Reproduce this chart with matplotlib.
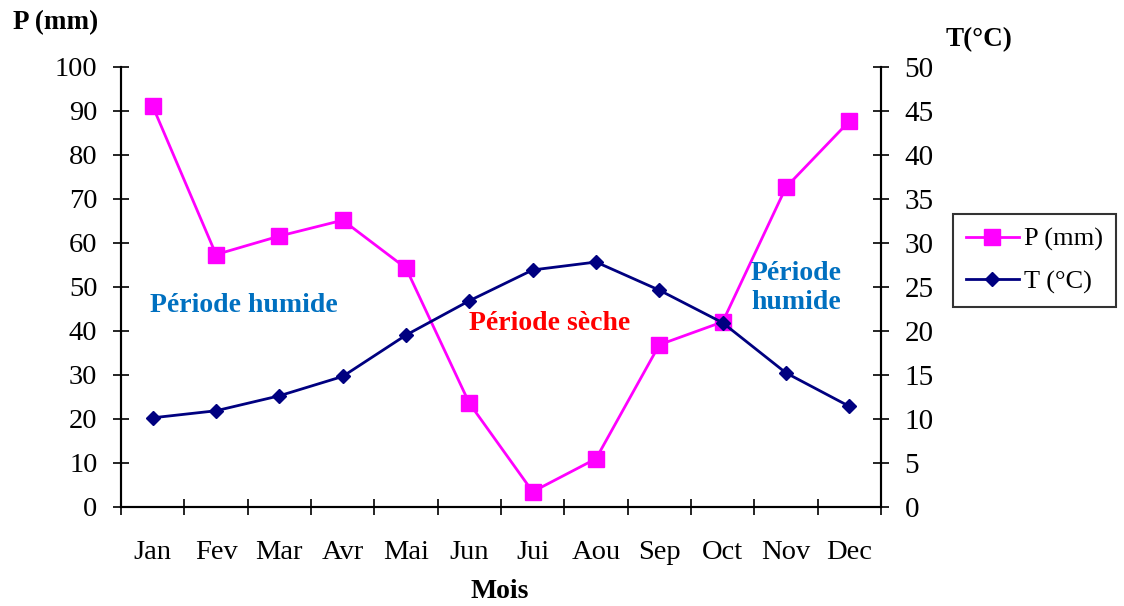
import matplotlib
matplotlib.use("Agg")
import matplotlib.pyplot as plt
from matplotlib.ticker import MultipleLocator, FixedLocator, NullFormatter, FixedFormatter

# Monthly climate data
months = ["Jan", "Fev", "Mar", "Avr", "Mai", "Jun", "Jui", "Aou", "Sep", "Oct", "Nov", "Dec"]
precip_mm = [91, 57.3, 61.5, 65.1, 54.2, 23.5, 3.4, 10.9, 36.8, 42.0, 72.6, 87.6]
temp_c = [10.1, 10.9, 12.6, 14.8, 19.5, 23.4, 26.9, 27.8, 24.6, 20.9, 15.2, 11.4]

plt.rcParams["font.family"] = ["Liberation Serif", "DejaVu Serif"]

fig = plt.figure(figsize=(11.24, 6.06), dpi=100)
ax = fig.add_axes([0.1077, 0.1639, 0.6761, 0.7261])
ax2 = ax.twinx()

x = [i + 0.5 for i in range(len(months))]

lp, = ax.plot(x, precip_mm, color="#ff00ff", lw=2, marker="s", ms=11.5,
              markeredgecolor="#ff00ff", label="P (mm)", zorder=3)
lt, = ax2.plot(x, temp_c, color="#000080", lw=2, marker="D", ms=7,
               markeredgecolor="#000080", label="T (°C)", zorder=3)

ax.set_xlim(0, 12)
ax.set_ylim(0, 100)
ax2.set_ylim(0, 50)

for a in (ax, ax2):
    a.spines["top"].set_visible(False)
    for s in a.spines.values():
        s.set_linewidth(1.5)
        s.set_color("black")

ax.yaxis.set_major_locator(MultipleLocator(10))
ax2.yaxis.set_major_locator(MultipleLocator(5))
ax.tick_params(axis="y", direction="inout", length=12, width=1.2, labelsize=20.5, pad=11)
ax2.tick_params(axis="y", direction="inout", length=12, width=1.2, labelsize=21, pad=11)

# Month boundaries as tick marks, names centred between them
ax.xaxis.set_major_locator(FixedLocator(list(range(13))))
ax.xaxis.set_major_formatter(NullFormatter())
ax.xaxis.set_minor_locator(FixedLocator(x))
ax.xaxis.set_minor_formatter(FixedFormatter(months))
ax.tick_params(axis="x", which="major", direction="inout", length=12, width=1.2)
ax.tick_params(axis="x", which="minor", length=0, labelsize=20.5, pad=24)

fig.text(0.445, 1 - 592 / 606, "Mois", fontsize=20, fontweight="bold", ha="center", va="center")
fig.text(0.012, 0.962, "P (mm)", fontsize=19.5, fontweight="bold", ha="left", va="center")
fig.text(0.841, 0.935, "T(°C)", fontsize=19.5, fontweight="bold", ha="left", va="center")

ax.text(0.46, 45.8, "Période humide", color="#0070c0", fontsize=20, fontweight="bold",
        ha="left", va="center")
ax.text(6.76, 41.7, "Période sèche", color="#ff0000", fontsize=20, fontweight="bold",
        ha="center", va="center")
ax.text(10.66, 49.7, "Période\nhumide", color="#0070c0", fontsize=20, fontweight="bold",
        ha="center", va="center", linespacing=1.25)

leg = fig.legend(handles=[lp, lt], loc="upper left", bbox_to_anchor=(0.836, 0.668),
                 fontsize=19, frameon=True, fancybox=False, edgecolor="black",
                 borderpad=0.5, handlelength=2.0, handletextpad=0.2, labelspacing=0.7)
leg.get_frame().set_linewidth(1.5)

fig.savefig("out.png", dpi=100)
